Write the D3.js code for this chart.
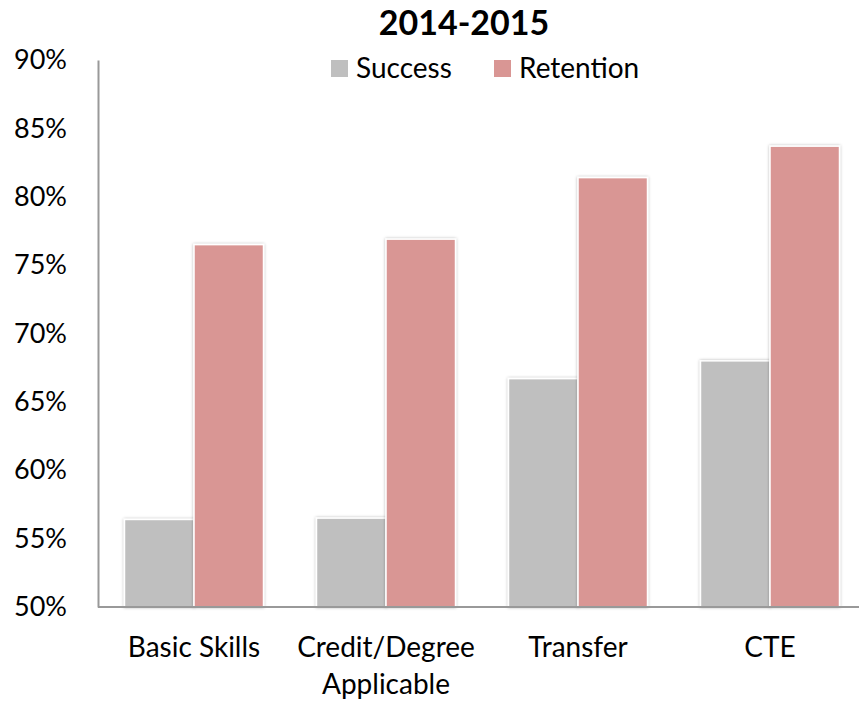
<!DOCTYPE html>
<html>
<head>
<meta charset="utf-8">
<script src="https://cdn.jsdelivr.net/npm/d3@7"></script>
<style>
  body { margin: 0; background: #fff; }
  svg { display: block; font-family: Lato, "Open Sans", sans-serif; }
</style>
</head>
<body>
<script>
// chart data
const categories = ["Basic Skills", "Credit/Degree Applicable", "Transfer", "CTE"];
const seriesNames = ["Success", "Retention"];
const success = [0.564, 0.565, 0.667, 0.680];
const retention = [0.765, 0.769, 0.814, 0.837];
const yTicks = [0.5, 0.55, 0.6, 0.65, 0.7, 0.75, 0.8, 0.85, 0.9];
const colors = ["#BFBFBF", "#D99694"];

const width = 859, height = 702;
const margin = { left: 98, top: 60, bottom: 95 };
const font = "Lato, 'Open Sans', sans-serif";

const svg = d3.select("body").append("svg")
    .attr("width", width)
    .attr("height", height);

// soft shadow for the bars
const filter = svg.append("defs").append("filter")
    .attr("id", "shadow")
    .attr("x", "-20%").attr("y", "-5%")
    .attr("width", "140%").attr("height", "110%");
filter.append("feDropShadow")
    .attr("dx", 0).attr("dy", 0)
    .attr("stdDeviation", 1.5)
    .attr("flood-color", "#000")
    .attr("flood-opacity", 0.3);

const x = d3.scaleBand()
    .domain(categories)
    .range([margin.left, margin.left + 4 * 192])
    .paddingInner(0.276)
    .paddingOuter(0.138);

const xSub = d3.scaleBand()
    .domain(seriesNames)
    .range([0, x.bandwidth()]);

const y = d3.scaleLinear()
    .domain([0.5, 0.9])
    .range([height - margin.bottom, margin.top]);

// bars
const rows = categories.map((c, i) => ({ cat: c, values: [success[i], retention[i]] }));
svg.selectAll("g.group")
    .data(rows)
    .enter().append("g")
    .attr("class", "group")
    .attr("transform", d => `translate(${x(d.cat)},0)`)
    .selectAll("rect")
    .data(d => d.values.map((v, j) => ({ name: seriesNames[j], v: v, j: j })))
    .enter().append("rect")
    .attr("x", d => xSub(d.name))
    .attr("y", d => y(d.v))
    .attr("width", xSub.bandwidth())
    .attr("height", d => y(0.5) - y(d.v))
    .attr("fill", d => colors[d.j])
    .attr("stroke", "#fff")
    .attr("stroke-width", 1.5)
    .attr("filter", "url(#shadow)");

// y axis
const yAxis = svg.append("g")
    .attr("transform", `translate(${margin.left},0)`)
    .call(d3.axisLeft(y).tickValues(yTicks).tickFormat(d3.format(".0%")).tickSize(0).tickPadding(31));
yAxis.attr("font-family", font);
yAxis.select(".domain").attr("stroke", "#999").attr("stroke-width", 2);
yAxis.selectAll("text")
    .attr("font-size", 27)
    .attr("fill", "#000");

// x axis line
svg.append("line")
    .attr("x1", margin.left).attr("x2", width)
    .attr("y1", y(0.5)).attr("y2", y(0.5))
    .attr("stroke", "#999").attr("stroke-width", 2);

// category labels (wrapped where needed)
const labelLines = { "Credit/Degree Applicable": ["Credit/Degree", "Applicable"] };
categories.forEach(c => {
    const lines = labelLines[c] || [c];
    const t = svg.append("text")
        .attr("x", x(c) + x.bandwidth() / 2)
        .attr("y", 657)
        .attr("text-anchor", "middle")
        .attr("font-size", 28)
        .attr("fill", "#000");
    lines.forEach((l, i) => {
        t.append("tspan")
            .attr("x", x(c) + x.bandwidth() / 2)
            .attr("dy", i === 0 ? 0 : 37)
            .text(l);
    });
});

// title
svg.append("text")
    .attr("x", 464).attr("y", 35)
    .attr("text-anchor", "middle")
    .attr("font-size", 34)
    .attr("font-weight", "bold")
    .text("2014-2015");

// legend
const legendX = [331, 494];
seriesNames.forEach((name, i) => {
    svg.append("rect")
        .attr("x", legendX[i]).attr("y", 60)
        .attr("width", 17).attr("height", 17)
        .attr("fill", colors[i]);
    svg.append("text")
        .attr("x", legendX[i] + 25).attr("y", 78)
        .attr("font-size", 28)
        .text(name);
});
</script>
</body>
</html>
